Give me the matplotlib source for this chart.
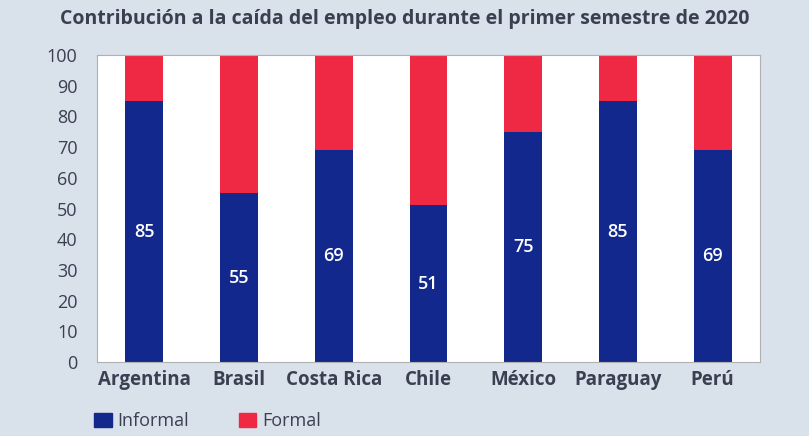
import matplotlib
matplotlib.use("Agg")
import matplotlib.pyplot as plt
import numpy as np
from matplotlib.patches import Patch

categories = ["Argentina", "Brasil", "Costa Rica", "Chile", "México", "Paraguay", "Perú"]
informal = [85, 55, 69, 51, 75, 85, 69]
formal = [15, 45, 31, 49, 25, 15, 31]
yticks = [0, 10, 20, 30, 40, 50, 60, 70, 80, 90, 100]

plt.rcParams['font.family'] = ['Open Sans', 'DejaVu Sans']
bg = "#d9e1ea"
navy = "#13288c"
red = "#ef2944"
txt = "#3b3f52"

fig = plt.figure(figsize=(8.09, 4.36), dpi=100, facecolor=bg)
ax = fig.add_axes([97/809, 1-362/436, (760-97)/809, (362-55)/436])
ax.set_facecolor("white")
x = np.arange(len(categories))
ax.bar(x, informal, width=0.4, color=navy, zorder=2)
ax.bar(x, formal, width=0.4, bottom=informal, color=red, zorder=2)
for xi, v in zip(x, informal):
    ax.text(xi, v/2, str(v), ha="center", va="center", color="white", fontsize=13, fontweight="semibold")
ax.set_xlim(-0.5, len(categories)-0.5)
ax.set_ylim(0, 100)
ax.set_yticks(yticks)
ax.set_yticklabels([str(t) for t in yticks], fontsize=13, color=txt)
ax.set_xticks(x)
ax.set_xticklabels(categories, fontsize=13.5, fontweight="bold", color=txt)
ax.tick_params(axis='y', length=0, pad=14)
ax.tick_params(axis='x', length=0, pad=6)
for s in ax.spines.values():
    s.set_color("#b0b0b0")
    s.set_linewidth(0.8)

fig.text(0.5, 1-19/436, "Contribución a la caída del empleo durante el primer semestre de 2020",
         ha="center", va="center", fontsize=14, fontweight="bold", color=txt)

handles = [Patch(color=navy, label="Informal"), Patch(color=red, label="Formal")]
leg = fig.legend(handles=handles, loc="center left", bbox_to_anchor=(80/809, 1-421/436),
                 ncol=2, frameon=False, fontsize=13, handlelength=0.95, handleheight=0.85,
                 columnspacing=2.8, handletextpad=0.3, borderpad=0.3)
for t in leg.get_texts():
    t.set_color(txt)

fig.savefig("out.png", dpi=100, facecolor=bg)
